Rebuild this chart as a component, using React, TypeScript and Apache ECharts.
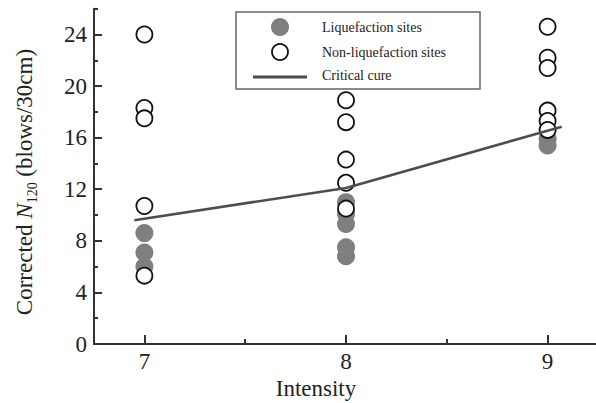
import React, { useEffect, useRef } from "react";
import * as echarts from "echarts";

// ---- data ----
const liqIntensity7 = [8.6, 7.1, 6.0];
const liqIntensity8 = [11.0, 10.1, 9.3, 7.5, 6.8];
const liqIntensity9 = [15.9, 15.4];

const nonIntensity7 = [24.0, 18.3, 17.5, 10.7, 5.3];
const nonIntensity8 = [18.9, 17.2, 14.3, 12.5, 10.5];
const nonIntensity9 = [24.6, 22.2, 21.4, 18.1, 17.3, 16.6];

const curveX = [6.95, 8.0, 9.07];
const curveY = [9.6, 12.1, 16.85];

const xMajorTicks = [7, 8, 9];
const xMinorTicks = [7.5, 8.5];
const yMajorTicks = [0, 4, 8, 12, 16, 20, 24];
const yMinorTicks = [2, 6, 10, 14, 18, 22, 26];

const legendLabels = ["Liquefaction sites", "Non-liquefaction sites", "Critical cure"];

const FONT = "'Liberation Serif', serif";
const AXIS_COLOR = "#333";
const FILL_GRAY = "#7f7f7f";
const LINE_GRAY = "#4d4d4d";

function pairs(x: number, ys: number[]) {
  return ys.map((y) => [x, y]);
}

export default function App() {
  const ref = useRef<HTMLDivElement>(null);

  useEffect(() => {
    if (!ref.current) return;
    const chart = echarts.init(ref.current, null, { renderer: "svg" });

    const liqData = [
      ...pairs(7, liqIntensity7),
      ...pairs(8, liqIntensity8),
      ...pairs(9, liqIntensity9),
    ];
    const nonData = [
      ...pairs(7, nonIntensity7),
      ...pairs(8, nonIntensity8),
      ...pairs(9, nonIntensity9),
    ];
    const curveData = curveX.map((x, i) => [x, curveY[i]]);

    const baseX = {
      type: "value",
      min: 6.75,
      max: 9.24,
      position: "bottom",
      splitLine: { show: false },
    };
    const baseY = {
      type: "value",
      min: 0,
      max: 26,
      position: "left",
      splitLine: { show: false },
    };

    chart.setOption({
      animation: false,
      backgroundColor: "#fff",
      grid: { left: 94, right: 0, top: 8.7, bottom: 59, containLabel: false },
      xAxis: [
        {
          ...baseX,
          axisLine: { show: true, lineStyle: { color: AXIS_COLOR, width: 2 } },
          axisTick: {
            show: true,
            inside: true,
            length: 9,
            customValues: xMajorTicks,
            lineStyle: { color: AXIS_COLOR, width: 2 },
          },
          axisLabel: {
            show: true,
            customValues: xMajorTicks,
            margin: 6,
            fontFamily: FONT,
            fontSize: 23,
            color: "#222",
          },
        },
        {
          ...baseX,
          axisLine: { show: false },
          axisTick: {
            show: true,
            inside: true,
            length: 5,
            customValues: xMinorTicks,
            lineStyle: { color: AXIS_COLOR, width: 2 },
          },
          axisLabel: { show: false },
        },
      ],
      yAxis: [
        {
          ...baseY,
          axisLine: { show: true, lineStyle: { color: AXIS_COLOR, width: 2 } },
          axisTick: {
            show: true,
            inside: true,
            length: 8,
            customValues: yMajorTicks,
            lineStyle: { color: AXIS_COLOR, width: 2 },
          },
          axisLabel: {
            show: true,
            customValues: yMajorTicks,
            margin: 7,
            fontFamily: FONT,
            fontSize: 23,
            color: "#222",
          },
        },
        {
          ...baseY,
          axisLine: { show: false },
          axisTick: {
            show: true,
            inside: true,
            length: 4,
            customValues: yMinorTicks,
            lineStyle: { color: AXIS_COLOR, width: 2 },
          },
          axisLabel: { show: false },
        },
      ],
      series: [
        {
          name: legendLabels[0],
          type: "scatter",
          xAxisIndex: 0,
          yAxisIndex: 0,
          symbol: "circle",
          symbolSize: 18,
          itemStyle: { color: FILL_GRAY, opacity: 1 },
          data: liqData,
          z: 2,
        },
        {
          name: legendLabels[1],
          type: "scatter",
          xAxisIndex: 0,
          yAxisIndex: 0,
          symbol: "circle",
          symbolSize: 16,
          itemStyle: { color: "#fff", borderColor: "#111", borderWidth: 1.8, opacity: 1 },
          data: nonData,
          z: 3,
        },
        {
          name: legendLabels[2],
          type: "line",
          xAxisIndex: 0,
          yAxisIndex: 0,
          symbol: "none",
          lineStyle: { color: LINE_GRAY, width: 2.6 },
          data: curveData,
          z: 4,
        },
      ],
      graphic: [
        {
          type: "rect",
          shape: { x: 236, y: 12, width: 244, height: 77 },
          style: { fill: "#fff", stroke: "#666", lineWidth: 1.5 },
          z: 10,
        },
        {
          type: "circle",
          shape: { cx: 280, cy: 27, r: 9 },
          style: { fill: FILL_GRAY },
          z: 11,
        },
        {
          type: "circle",
          shape: { cx: 280, cy: 52, r: 8 },
          style: { fill: "#fff", stroke: "#111", lineWidth: 1.8 },
          z: 11,
        },
        {
          type: "line",
          shape: { x1: 253, y1: 77, x2: 307, y2: 77 },
          style: { stroke: LINE_GRAY, lineWidth: 2.8 },
          z: 11,
        },
        ...legendLabels.map((t, i) => ({
          type: "text",
          x: 322,
          y: [27, 52, 75][i],
          style: {
            text: t,
            fontFamily: FONT,
            fontSize: 14,
            fill: "#222",
            align: "left",
            verticalAlign: "middle",
          },
          z: 11,
        })),
        {
          type: "text",
          x: 316,
          y: 388,
          style: {
            text: "Intensity",
            fontFamily: FONT,
            fontSize: 23,
            fill: "#222",
            align: "center",
            verticalAlign: "middle",
          },
        },
        {
          type: "text",
          x: 24,
          y: 182,
          rotation: Math.PI / 2,
          style: {
            text: "Corrected {i|N}{s|120} (blows/30cm)",
            fontFamily: FONT,
            fontSize: 23,
            fill: "#222",
            align: "center",
            verticalAlign: "middle",
            lineHeight: 30,
            rich: {
              i: { fontFamily: FONT, fontSize: 23, fontStyle: "italic", fill: "#222", lineHeight: 30 },
              s: { fontFamily: FONT, fontSize: 14, fill: "#222", lineHeight: 12, verticalAlign: "bottom" },
            },
          },
        },
      ],
    });

    return () => chart.dispose();
  }, []);

  return <div ref={ref} style={{ width: 596, height: 403, position: "absolute", left: 0, top: 0 }} />;
}
